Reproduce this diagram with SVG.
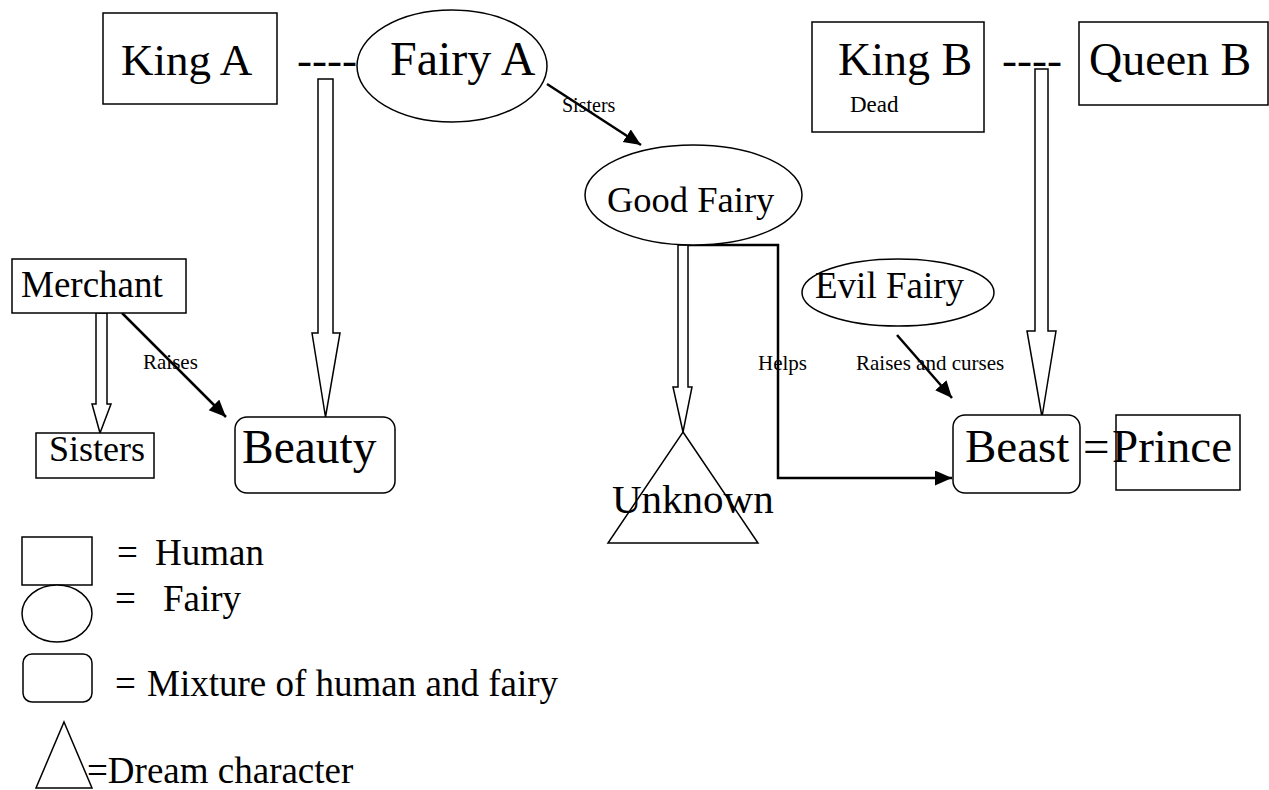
<svg xmlns="http://www.w3.org/2000/svg" width="1269" height="790" viewBox="0 0 1269 790">
<style>
text { font-family: "Liberation Serif", "Times New Roman", serif; fill: #000; }
.sh { fill: #fff; stroke: #000; stroke-width: 1.5; }
.blk { fill: #fff; stroke: #000; stroke-width: 1.5; }
.ln { fill: none; stroke: #000; stroke-width: 2.5; }
.sm { font-size: 21px; }
</style>
<defs>
<marker id="ah" markerUnits="userSpaceOnUse" markerWidth="20" markerHeight="16" refX="17" refY="7.5" orient="auto">
<path d="M0,0 L17,7.5 L0,15 z" fill="#000"/>
</marker>
</defs>
<rect width="1269" height="790" fill="#fff"/>

<g id="connectors">
<polygon class="blk" points="318,79 333,79 333,333 340,333 325.5,417 312,333 318,333"/>
<polygon class="blk" points="1035,69 1048,69 1048,331 1056,331 1042,417 1027,331 1035,331"/>
<polygon class="blk" points="96,313 107,313 107,404 111,404 100,433 92,404 96,404"/>
<polygon class="blk" points="678,245 688,245 688,387 692,387 683,432 673,387 678,387"/>
<line class="ln" x1="547" y1="84" x2="641" y2="145" marker-end="url(#ah)"/>
<line class="ln" x1="122" y1="313" x2="226" y2="417" marker-end="url(#ah)"/>
<line class="ln" x1="897" y1="335" x2="952" y2="398" marker-end="url(#ah)"/>
<polyline class="ln" points="688,245 778,245 778,478 952,478" marker-end="url(#ah)"/>
<text x="297" y="75" style="font-size:45px">----</text>
<text x="1002" y="75" style="font-size:45px">----</text>
<text class="sm" x="562" y="112" style="font-size:20px">Sisters</text>
<text class="sm" x="143" y="369">Raises</text>
<text class="sm" x="758" y="370">Helps</text>
<text class="sm" x="856" y="370">Raises and curses</text>
</g>

<g id="king-a">
<rect class="sh" x="103" y="13" width="174" height="91"/>
<text x="121" y="75" style="font-size:45px">King A</text>
</g>
<g id="fairy-a">
<ellipse class="sh" cx="452" cy="66" rx="95" ry="56"/>
<text x="390" y="75" style="font-size:48px">Fairy A</text>
</g>
<g id="king-b">
<rect class="sh" x="812" y="22" width="172" height="110"/>
<text x="838" y="75" style="font-size:46px">King B</text>
<text x="850" y="112" style="font-size:23px">Dead</text>
</g>
<g id="queen-b">
<rect class="sh" x="1079" y="22" width="189" height="83"/>
<text x="1089" y="75" style="font-size:46px">Queen B</text>
</g>
<g id="good-fairy">
<ellipse class="sh" cx="693.5" cy="195" rx="108.5" ry="50"/>
<text x="607" y="212" style="font-size:36.5px">Good Fairy</text>
</g>
<g id="merchant">
<rect class="sh" x="12" y="259" width="174" height="54"/>
<text x="21" y="297" style="font-size:37px">Merchant</text>
</g>
<g id="evil-fairy">
<ellipse class="sh" cx="898" cy="292.5" rx="96" ry="33.5"/>
<text x="815" y="298" style="font-size:37px">Evil Fairy</text>
</g>
<g id="sisters">
<rect class="sh" x="36" y="433" width="118" height="45"/>
<text x="49" y="461" style="font-size:36px">Sisters</text>
</g>
<g id="beauty">
<rect class="sh" x="235" y="417" width="160" height="76" rx="12" ry="12"/>
<text x="242" y="463" style="font-size:47.5px">Beauty</text>
</g>
<g id="unknown">
<polygon class="sh" points="683,432 758,543 608,543"/>
<text x="612" y="513" style="font-size:41px">Unknown</text>
</g>
<g id="beast">
<rect class="sh" x="953" y="415" width="127" height="78" rx="12" ry="12"/>
<text x="965" y="462" style="font-size:47px">Beast</text>
</g>
<text x="1083" y="462" style="font-size:47px">=</text>
<g id="prince">
<rect class="sh" x="1116" y="415" width="124" height="75" style="fill:none"/>
<text x="1112" y="462" style="font-size:47px">Prince</text>
</g>

<g id="legend">
<rect class="sh" x="22" y="537" width="70" height="48"/>
<text x="117" y="565" style="font-size:37px">=<tspan x="155">Human</tspan></text>
<ellipse class="sh" cx="57" cy="613.5" rx="35" ry="28.5"/>
<text x="115" y="611" style="font-size:37px">=<tspan x="163">Fairy</tspan></text>
<rect class="sh" x="23" y="654" width="69" height="48" rx="9" ry="9"/>
<text x="115" y="696" style="font-size:37px">=<tspan x="147">Mixture of human and fairy</tspan></text>
<polygon class="sh" points="64,722 92,788 36,788"/>
<text x="87" y="783" style="font-size:37px">=Dream character</text>
</g>
</svg>
